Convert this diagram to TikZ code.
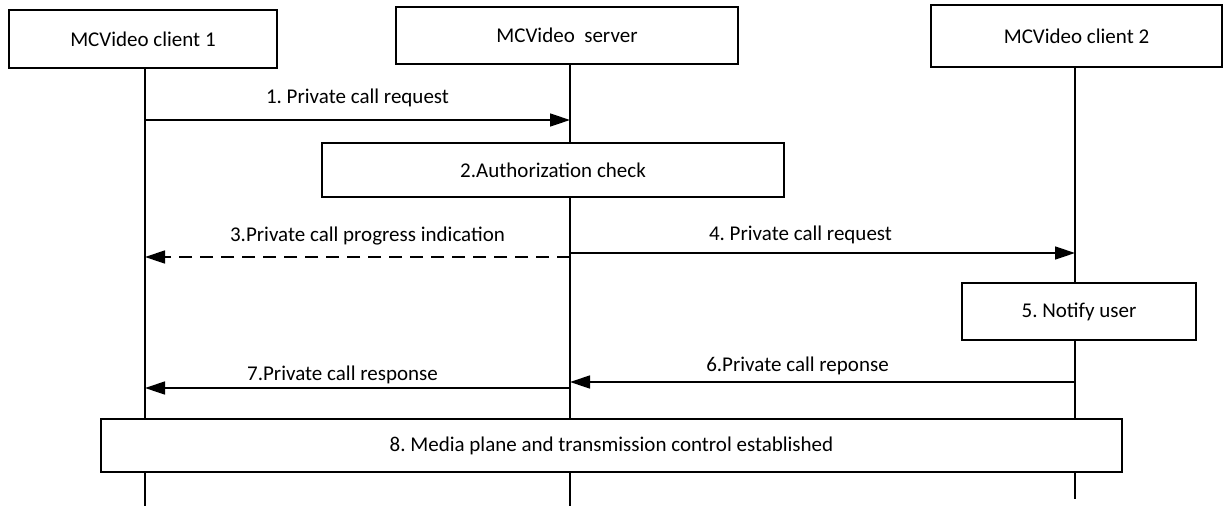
\documentclass[tikz,border=0pt]{standalone}
\usepackage{fontspec}
\setmainfont{Carlito}
\usetikzlibrary{positioning,calc,arrows.meta}

\begin{document}
\begin{tikzpicture}[x=1pt,y=-1pt,every node/.style={outer sep=0pt},
		box/.style={draw,line width=1.5pt,fill=white,inner sep=0pt,
		font=\fontsize{21}{25}\selectfont},
		life/.style={line width=1.3pt},
		msg/.style={line width=1.4pt,-{Triangle[length=20pt,width=13pt]}},
		back/.style={msg,dash pattern=on 13pt off 8pt},
		lbl/.style={font=\fontsize{21}{25}\selectfont,inner sep=0pt,
		text height=14pt,text depth=4pt},
		]
		\useasboundingbox (0,0) rectangle (1223,506);

		% lifelines
		\coordinate (l1) at (145,68);
		\coordinate (l1e) at (145,506);
		\coordinate (l2) at (570,64);
		\coordinate (l2e) at (570,506);
		\coordinate (l3) at (1075,67);
		\coordinate (l3e) at (1075,499);
		\draw[life] (l1) -- (l1e);
		\draw[life] (l2) -- (l2e);
		\draw[life] (l3) -- (l3e);

		% participants
		\node[box,minimum width=268pt,minimum height=58pt] (c1) at (143,39) {MCVideo client 1};
		\node[box,minimum width=342pt,minimum height=57pt] (srv) at (567,35.5) {MCVideo~ server};
		\node[box,minimum width=291pt,minimum height=62pt] (c2) at (1076.5,36) {MCVideo client 2};

		% steps
		\node[box,minimum width=462pt,minimum height=54pt] (auth) at (553,170) {2.Authorization check};
		\node[box,minimum width=234pt,minimum height=57pt] (notify) at (1079,311.5) {5.\ Notify user};
		\node[box,minimum width=1021pt,minimum height=53pt] (media) at (611.5,445.5) {8.\ Media plane and transmission control established};

		% message end points
		\coordinate (m1a) at (145,120);
		\coordinate (m1b) at (570,120);
		\coordinate (m3a) at (570,257);
		\coordinate (m3b) at (145,257);
		\coordinate (m4a) at (570,253);
		\coordinate (m4b) at (1075,253);
		\coordinate (m6a) at (1075,382);
		\coordinate (m6b) at (570,382);
		\coordinate (m7a) at (570,388);
		\coordinate (m7b) at (145,388);

		\draw[msg] (m1a) -- (m1b) node[lbl,midway,above=13pt] (t1) {1.\ Private call request};
		\draw[back] (m3a) -- (m3b) node[lbl,midway,above=12pt,xshift=10pt] (t3) {3.Private call progress indication};
		\draw[msg] (m4a) -- (m4b) node[lbl,midway,above=9pt,xshift=-22pt] (t4) {4.\ Private call request};
		\draw[msg] (m6a) -- (m6b) node[lbl,midway,above=7pt,xshift=-25pt] (t6) {6.Private call reponse};
		\draw[msg] (m7a) -- (m7b) node[lbl,midway,above=4pt,xshift=-15pt] (t7) {7.Private call response};
\end{tikzpicture}
\end{document}
